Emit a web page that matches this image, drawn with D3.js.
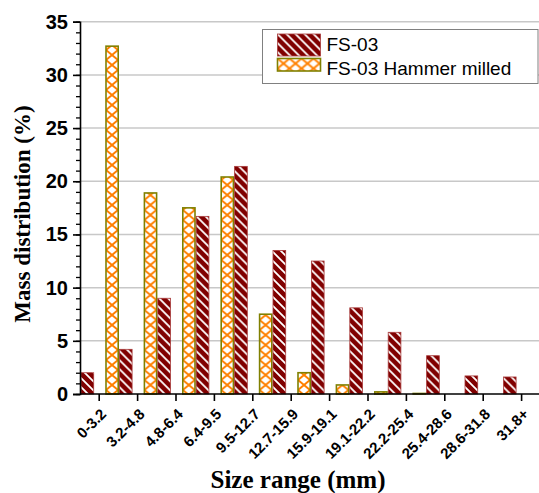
<!DOCTYPE html>
<html>
<head>
<meta charset="utf-8">
<script src="https://cdn.jsdelivr.net/npm/d3@7"></script>
<style>
  body { margin: 0; background: #fff; }
  svg { display: block; }
</style>
</head>
<body>
<div id="chart"></div>
<script>
const sizeRanges = ["0-3.2", "3.2-4.8", "4.8-6.4", "6.4-9.5", "9.5-12.7", "12.7-15.9",
  "15.9-19.1", "19.1-22.2", "22.2-25.4", "25.4-28.6", "28.6-31.8", "31.8+"];
const fs03 = [2.0, 4.2, 9.0, 16.7, 21.4, 13.5, 12.5, 8.1, 5.8, 3.6, 1.7, 1.6];
const fs03Milled = [32.7, 18.9, 17.5, 20.4, 7.5, 2.0, 0.85, 0.2, 0.05, 0, 0, 0];
const yTicks = [0, 5, 10, 15, 20, 25, 30, 35];
const seriesNames = ["FS-03", "FS-03 Hammer milled"];

const width = 539;
const height = 493;
const left = 80;
const bottom = 394;

const svg = d3.select("#chart").append("svg")
  .attr("width", width)
  .attr("height", height);

const defs = svg.append("defs");

// white diagonal stripes on maroon
const stripe = defs.append("pattern")
  .attr("id", "stripe")
  .attr("patternUnits", "userSpaceOnUse")
  .attr("width", 9)
  .attr("height", 9);
stripe.append("rect").attr("width", 9).attr("height", 9).attr("fill", "#800000");
stripe.append("path")
  .attr("d", "M0,0L9,9M-3,6L3,12M6,-3L12,3")
  .attr("stroke", "#fff")
  .attr("stroke-width", 1.8);

// orange cross hatch on white
const hatch = defs.append("pattern")
  .attr("id", "hatch")
  .attr("patternUnits", "userSpaceOnUse")
  .attr("width", 12)
  .attr("height", 10);
hatch.append("rect").attr("width", 12).attr("height", 10).attr("fill", "#fff");
hatch.append("path")
  .attr("d", "M0,0L12,10M12,0L0,10")
  .attr("stroke", "#ff8000")
  .attr("stroke-width", 2);

const xScale = d3.scaleBand()
  .domain(sizeRanges)
  .range([left, left + 38.4 * sizeRanges.length]);

const yScale = d3.scaleLinear().domain([0, 35]).range([bottom, 21.7]);

// grid
svg.append("g")
  .selectAll("line")
  .data(yTicks.filter((d) => d > 0))
  .join("line")
  .attr("x1", left)
  .attr("x2", width)
  .attr("y1", (d) => yScale(d))
  .attr("y2", (d) => yScale(d))
  .attr("stroke", "#c8c8c8")
  .attr("stroke-width", 1.5);

// bars
const barW = 12.7;
const groups = svg.append("g")
  .selectAll("g")
  .data(sizeRanges)
  .join("g");

groups.append("g")
  .attr("transform", (d) => `translate(${xScale(d) + 1},0)`)
  .append("rect")
  .attr("x", 0)
  .attr("width", barW)
  .attr("y", (d, i) => yScale(fs03[i]))
  .attr("height", (d, i) => bottom - yScale(fs03[i]))
  .attr("fill", "url(#stripe)")
  .attr("stroke", "#a83a3a")
  .attr("stroke-width", 0.8);

groups.filter((d, i) => fs03Milled[i] > 0)
  .append("g")
  .attr("transform", (d) => `translate(${xScale(d) + 26},0)`)
  .append("rect")
  .attr("x", 0)
  .attr("width", barW - 0.5)
  .attr("y", (d) => yScale(fs03Milled[sizeRanges.indexOf(d)]))
  .attr("height", (d) => bottom - yScale(fs03Milled[sizeRanges.indexOf(d)]))
  .attr("fill", "url(#hatch)")
  .attr("stroke", "#808000")
  .attr("stroke-width", 1.6);

// y axis
const yAxis = svg.append("g")
  .attr("transform", `translate(${left},0)`)
  .call(d3.axisLeft(yScale).tickValues(d3.range(0, 36, 1)).tickSize(4).tickFormat(""));
yAxis.selectAll(".tick line").attr("stroke-width", 1.3);
yAxis.select(".domain").remove();

const yMajor = svg.append("g")
  .attr("transform", `translate(${left},0)`)
  .call(d3.axisLeft(yScale).tickValues(yTicks).tickSize(7).tickPadding(5));
yMajor.select(".domain").attr("stroke-width", 1.6);
yMajor.selectAll(".tick line").attr("stroke-width", 1.6);
yMajor.selectAll("text")
  .attr("font-family", "Liberation Sans, Arial, sans-serif")
  .attr("font-weight", "bold")
  .attr("font-size", 20)
  .attr("fill", "#000");

// x axis
const xAxis = svg.append("g")
  .attr("transform", `translate(0,${bottom})`)
  .call(d3.axisBottom(xScale).tickSize(7).tickSizeOuter(0));
xAxis.select(".domain").attr("d", `M${left},0H${width}`).attr("stroke-width", 1.6);
xAxis.selectAll(".tick line").attr("stroke-width", 1.6);
xAxis.selectAll("text")
  .attr("font-family", "Liberation Sans, Arial, sans-serif")
  .attr("font-weight", "bold")
  .attr("font-size", 15)
  .attr("fill", "#000")
  .attr("text-anchor", "end")
  .attr("y", 0)
  .attr("dy", 0)
  .attr("transform", "translate(8,21) rotate(-45)");

// axis titles
svg.append("text")
  .attr("x", 298)
  .attr("y", 488)
  .attr("text-anchor", "middle")
  .attr("font-family", "Liberation Serif, Times New Roman, serif")
  .attr("font-weight", "bold")
  .attr("font-size", 25)
  .text("Size range (mm)");

svg.append("text")
  .attr("transform", "translate(30,214) rotate(-90)")
  .attr("text-anchor", "middle")
  .attr("font-family", "Liberation Serif, Times New Roman, serif")
  .attr("font-weight", "bold")
  .attr("font-size", 23)
  .text("Mass distribution (%)");

// legend
const legend = svg.append("g").attr("transform", "translate(262.5,29.5)");
legend.append("rect")
  .attr("width", 275.5)
  .attr("height", 54)
  .attr("fill", "#fff")
  .attr("stroke", "#808080")
  .attr("stroke-width", 1);

const legendItems = legend.selectAll(".legend-item")
  .data(seriesNames)
  .join("g")
  .attr("class", "legend-item");

legendItems.append("g")
  .attr("transform", (d, i) => `translate(15,${i === 0 ? 4.5 : 29})`)
  .append("rect")
  .attr("width", 43)
  .attr("height", (d, i) => (i === 0 ? 22 : 12.5))
  .attr("fill", (d, i) => (i === 0 ? "url(#stripe)" : "url(#hatch)"))
  .attr("stroke", (d, i) => (i === 0 ? "#a83a3a" : "#808000"))
  .attr("stroke-width", (d, i) => (i === 0 ? 0.8 : 1.6));

legendItems.append("text")
  .attr("x", 64)
  .attr("y", (d, i) => (i === 0 ? 21 : 45.5))
  .attr("font-family", "Liberation Sans, Arial, sans-serif")
  .attr("font-size", 19)
  .text((d) => d);
</script>
</body>
</html>
